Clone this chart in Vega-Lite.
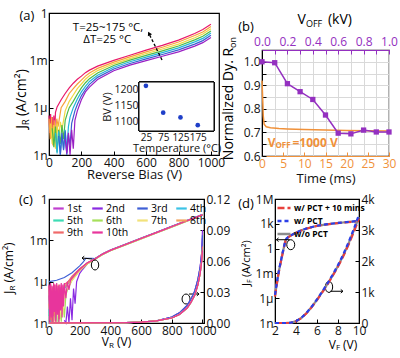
{
"$schema":"https://vega.github.io/schema/vega-lite/v6.json",
"padding":{"left":2,"top":6,"right":0,"bottom":0},
"spacing":6,
"align":"none",
"resolve":{"scale":{"color":"independent","strokeDash":"independent"},"legend":{"color":"independent","strokeDash":"independent"}},
"config":{
 "font":"Open Sans",
 "view":{"stroke":"#000","strokeWidth":1.2},
 "axis":{"labelFont":"Open Sans","labelFontSize":12,"labelColor":"#111","titleFont":"Open Sans","titleFontSize":13,"titleFontWeight":"normal","titleColor":"#111","domainColor":"#000","tickColor":"#000","tickSize":-4,"labelPadding":6,"grid":false,"labelFlush":false,"labelOverlap":false,"tickCount":50,"titlePadding":2},
 "text":{"font":"Open Sans"}
},
"datasets":{
 "a_curves":[
  {"t":175,"v":0,"lj":-6.5},{"t":175,"v":5,"lj":-7.6},{"t":175,"v":10,"lj":-6.4},{"t":175,"v":15,"lj":-7.9},{"t":175,"v":20,"lj":-6.6},{"t":175,"v":25,"lj":-8.2},{"t":175,"v":30,"lj":-6.5},{"t":175,"v":35,"lj":-7.5},{"t":175,"v":40,"lj":-6.3},{"t":175,"v":50,"lj":-5.95},{"t":175,"v":75,"lj":-5.5},{"t":175,"v":100,"lj":-5.1},{"t":175,"v":125,"lj":-4.75},{"t":175,"v":150,"lj":-4.45},{"t":175,"v":175,"lj":-4.2},{"t":175,"v":200,"lj":-4.0},{"t":175,"v":225,"lj":-3.78},{"t":175,"v":250,"lj":-3.62},{"t":175,"v":300,"lj":-3.37},{"t":175,"v":400,"lj":-3.0},{"t":175,"v":500,"lj":-2.68},{"t":175,"v":600,"lj":-2.35},{"t":175,"v":700,"lj":-2.05},{"t":175,"v":800,"lj":-1.72},{"t":175,"v":900,"lj":-1.3},{"t":175,"v":950,"lj":-1.05},{"t":175,"v":1000,"lj":-0.72},
  {"t":150,"v":0,"lj":-6.7},{"t":150,"v":8,"lj":-8.0},{"t":150,"v":16,"lj":-6.6},{"t":150,"v":24,"lj":-8.4},{"t":150,"v":32,"lj":-6.8},{"t":150,"v":40,"lj":-7.9},{"t":150,"v":48,"lj":-6.7},{"t":150,"v":56,"lj":-7.2},{"t":150,"v":75,"lj":-6.0},{"t":150,"v":100,"lj":-5.6},{"t":150,"v":125,"lj":-5.1},{"t":150,"v":150,"lj":-4.8},{"t":150,"v":175,"lj":-4.5},{"t":150,"v":200,"lj":-4.25},{"t":150,"v":225,"lj":-4.0},{"t":150,"v":250,"lj":-3.8},{"t":150,"v":300,"lj":-3.51},{"t":150,"v":400,"lj":-3.11},{"t":150,"v":500,"lj":-2.78},{"t":150,"v":600,"lj":-2.46},{"t":150,"v":700,"lj":-2.17},{"t":150,"v":800,"lj":-1.84},{"t":150,"v":900,"lj":-1.43},{"t":150,"v":950,"lj":-1.2},{"t":150,"v":1000,"lj":-0.86},
  {"t":125,"v":10,"lj":-7.0},{"t":125,"v":20,"lj":-8.3},{"t":125,"v":30,"lj":-7.1},{"t":125,"v":40,"lj":-8.6},{"t":125,"v":50,"lj":-7.0},{"t":125,"v":60,"lj":-8.0},{"t":125,"v":70,"lj":-6.9},{"t":125,"v":80,"lj":-7.4},{"t":125,"v":100,"lj":-6.2},{"t":125,"v":125,"lj":-5.6},{"t":125,"v":150,"lj":-5.2},{"t":125,"v":175,"lj":-4.8},{"t":125,"v":200,"lj":-4.5},{"t":125,"v":225,"lj":-4.2},{"t":125,"v":250,"lj":-3.98},{"t":125,"v":300,"lj":-3.65},{"t":125,"v":400,"lj":-3.22},{"t":125,"v":500,"lj":-2.89},{"t":125,"v":600,"lj":-2.57},{"t":125,"v":700,"lj":-2.28},{"t":125,"v":800,"lj":-1.97},{"t":125,"v":900,"lj":-1.57},{"t":125,"v":950,"lj":-1.33},{"t":125,"v":1000,"lj":-1.0},
  {"t":100,"v":20,"lj":-7.3},{"t":100,"v":30,"lj":-8.5},{"t":100,"v":40,"lj":-7.2},{"t":100,"v":50,"lj":-8.8},{"t":100,"v":60,"lj":-7.4},{"t":100,"v":70,"lj":-8.3},{"t":100,"v":80,"lj":-7.1},{"t":100,"v":90,"lj":-8.0},{"t":100,"v":100,"lj":-6.8},{"t":100,"v":115,"lj":-6.3},{"t":100,"v":125,"lj":-6.0},{"t":100,"v":150,"lj":-5.6},{"t":100,"v":175,"lj":-5.15},{"t":100,"v":200,"lj":-4.75},{"t":100,"v":225,"lj":-4.42},{"t":100,"v":250,"lj":-4.16},{"t":100,"v":300,"lj":-3.8},{"t":100,"v":400,"lj":-3.33},{"t":100,"v":500,"lj":-2.99},{"t":100,"v":600,"lj":-2.69},{"t":100,"v":700,"lj":-2.4},{"t":100,"v":800,"lj":-2.09},{"t":100,"v":900,"lj":-1.7},{"t":100,"v":950,"lj":-1.47},{"t":100,"v":1000,"lj":-1.14},
  {"t":75,"v":40,"lj":-7.6},{"t":75,"v":50,"lj":-8.9},{"t":75,"v":60,"lj":-7.5},{"t":75,"v":70,"lj":-9.0},{"t":75,"v":80,"lj":-7.7},{"t":75,"v":90,"lj":-8.6},{"t":75,"v":100,"lj":-7.4},{"t":75,"v":110,"lj":-8.8},{"t":75,"v":120,"lj":-7.2},{"t":75,"v":130,"lj":-6.6},{"t":75,"v":150,"lj":-6.0},{"t":75,"v":175,"lj":-5.45},{"t":75,"v":200,"lj":-5.0},{"t":75,"v":225,"lj":-4.65},{"t":75,"v":250,"lj":-4.34},{"t":75,"v":300,"lj":-3.94},{"t":75,"v":400,"lj":-3.44},{"t":75,"v":500,"lj":-3.09},{"t":75,"v":600,"lj":-2.8},{"t":75,"v":700,"lj":-2.51},{"t":75,"v":800,"lj":-2.21},{"t":75,"v":900,"lj":-1.83},{"t":75,"v":950,"lj":-1.61},{"t":75,"v":1000,"lj":-1.27},
  {"t":50,"v":60,"lj":-7.8},{"t":50,"v":70,"lj":-9.0},{"t":50,"v":80,"lj":-7.6},{"t":50,"v":90,"lj":-8.7},{"t":50,"v":100,"lj":-7.5},{"t":50,"v":110,"lj":-9.0},{"t":50,"v":120,"lj":-7.7},{"t":50,"v":130,"lj":-8.4},{"t":50,"v":140,"lj":-7.0},{"t":50,"v":150,"lj":-6.6},{"t":50,"v":160,"lj":-6.2},{"t":50,"v":175,"lj":-5.8},{"t":50,"v":200,"lj":-5.25},{"t":50,"v":225,"lj":-4.85},{"t":50,"v":250,"lj":-4.52},{"t":50,"v":300,"lj":-4.08},{"t":50,"v":400,"lj":-3.55},{"t":50,"v":500,"lj":-3.2},{"t":50,"v":600,"lj":-2.91},{"t":50,"v":700,"lj":-2.63},{"t":50,"v":800,"lj":-2.34},{"t":50,"v":900,"lj":-1.97},{"t":50,"v":950,"lj":-1.75},{"t":50,"v":1000,"lj":-1.41},
  {"t":25,"v":100,"lj":-8.0},{"t":25,"v":110,"lj":-8.9},{"t":25,"v":120,"lj":-7.6},{"t":25,"v":130,"lj":-9.0},{"t":25,"v":140,"lj":-7.4},{"t":25,"v":150,"lj":-8.6},{"t":25,"v":160,"lj":-6.8},{"t":25,"v":175,"lj":-6.2},{"t":25,"v":200,"lj":-5.5},{"t":25,"v":225,"lj":-5.0},{"t":25,"v":250,"lj":-4.7},{"t":25,"v":300,"lj":-4.22},{"t":25,"v":400,"lj":-3.66},{"t":25,"v":500,"lj":-3.3},{"t":25,"v":600,"lj":-3.02},{"t":25,"v":700,"lj":-2.74},{"t":25,"v":800,"lj":-2.46},{"t":25,"v":900,"lj":-2.1},{"t":25,"v":950,"lj":-1.88},{"t":25,"v":1000,"lj":-1.55}
 ],
 "a_bv":[{"temp":25,"bv":1210},{"temp":75,"bv":1127},{"temp":125,"bv":1112},{"temp":175,"bv":1088}],
 "b_time":[{"t":0,"r":0.92},{"t":0.15,"r":0.85},{"t":0.3,"r":0.77},{"t":0.5,"r":0.735},{"t":1,"r":0.724},{"t":2,"r":0.72},{"t":4,"r":0.717},{"t":6,"r":0.715},{"t":10,"r":0.712},{"t":15,"r":0.71},{"t":20,"r":0.708},{"t":25,"r":0.707},{"t":30,"r":0.706}],
 "b_volt":[{"kv":0,"r":1.0},{"kv":0.1,"r":0.996},{"kv":0.2,"r":0.907},{"kv":0.3,"r":0.873},{"kv":0.4,"r":0.84},{"kv":0.5,"r":0.774},{"kv":0.6,"r":0.697},{"kv":0.7,"r":0.694},{"kv":0.8,"r":0.71},{"kv":0.9,"r":0.702},{"kv":1.0,"r":0.702}],
 "c_log":[
  {"run":"1st","v":0,"lj":-7.0},{"run":"1st","v":10,"lj":-8.6},{"run":"1st","v":20,"lj":-6.6},{"run":"1st","v":30,"lj":-8.9},{"run":"1st","v":40,"lj":-6.8},{"run":"1st","v":50,"lj":-8.2},{"run":"1st","v":60,"lj":-6.5},{"run":"1st","v":70,"lj":-8.7},{"run":"1st","v":80,"lj":-6.7},{"run":"1st","v":90,"lj":-7.9},{"run":"1st","v":100,"lj":-6.4},{"run":"1st","v":125,"lj":-6.0},{"run":"1st","v":150,"lj":-5.7},{"run":"1st","v":175,"lj":-5.4},{"run":"1st","v":200,"lj":-5.1},{"run":"1st","v":250,"lj":-4.65},{"run":"1st","v":300,"lj":-4.35},{"run":"1st","v":350,"lj":-4.0},{"run":"1st","v":400,"lj":-3.73},{"run":"1st","v":500,"lj":-3.3},{"run":"1st","v":600,"lj":-2.87},{"run":"1st","v":700,"lj":-2.44},{"run":"1st","v":800,"lj":-2.01},{"run":"1st","v":900,"lj":-1.58},{"run":"1st","v":950,"lj":-1.37},{"run":"1st","v":1000,"lj":-1.15},
  {"run":"2nd","v":100,"lj":-8.8},{"run":"2nd","v":110,"lj":-9.0},{"run":"2nd","v":120,"lj":-7.8},{"run":"2nd","v":130,"lj":-9.0},{"run":"2nd","v":140,"lj":-7.2},{"run":"2nd","v":150,"lj":-8.8},{"run":"2nd","v":160,"lj":-6.5},{"run":"2nd","v":170,"lj":-7.6},{"run":"2nd","v":180,"lj":-6.0},{"run":"2nd","v":200,"lj":-5.4},{"run":"2nd","v":220,"lj":-5.1},{"run":"2nd","v":250,"lj":-4.7},{"run":"2nd","v":300,"lj":-4.33},{"run":"2nd","v":350,"lj":-3.98},{"run":"2nd","v":400,"lj":-3.71},{"run":"2nd","v":500,"lj":-3.28},{"run":"2nd","v":600,"lj":-2.85},{"run":"2nd","v":700,"lj":-2.42},{"run":"2nd","v":800,"lj":-1.99},{"run":"2nd","v":900,"lj":-1.56},{"run":"2nd","v":950,"lj":-1.35},{"run":"2nd","v":1000,"lj":-1.13},
  {"run":"3rd","v":0,"lj":-6.0},{"run":"3rd","v":50,"lj":-5.9},{"run":"3rd","v":100,"lj":-5.7},{"run":"3rd","v":150,"lj":-5.35},{"run":"3rd","v":200,"lj":-4.85},{"run":"3rd","v":225,"lj":-4.55},{"run":"3rd","v":240,"lj":-4.3},{"run":"3rd","v":260,"lj":-4.3},{"run":"3rd","v":280,"lj":-4.3},{"run":"3rd","v":300,"lj":-4.32},{"run":"3rd","v":350,"lj":-3.97},{"run":"3rd","v":400,"lj":-3.7},{"run":"3rd","v":500,"lj":-3.27},{"run":"3rd","v":600,"lj":-2.84},{"run":"3rd","v":700,"lj":-2.41},{"run":"3rd","v":800,"lj":-1.98},{"run":"3rd","v":900,"lj":-1.55},{"run":"3rd","v":950,"lj":-1.34},{"run":"3rd","v":1000,"lj":-1.12},
  {"run":"4th","v":0,"lj":-8.0},{"run":"4th","v":10,"lj":-9.0},{"run":"4th","v":20,"lj":-7.4},{"run":"4th","v":30,"lj":-8.8},{"run":"4th","v":40,"lj":-7.0},{"run":"4th","v":50,"lj":-9.0},{"run":"4th","v":60,"lj":-7.3},{"run":"4th","v":70,"lj":-8.5},{"run":"4th","v":80,"lj":-6.9},{"run":"4th","v":100,"lj":-6.5},{"run":"4th","v":125,"lj":-6.1},{"run":"4th","v":150,"lj":-5.7},{"run":"4th","v":200,"lj":-5.1},{"run":"4th","v":250,"lj":-4.65},{"run":"4th","v":300,"lj":-4.36},{"run":"4th","v":350,"lj":-4.01},{"run":"4th","v":400,"lj":-3.74},{"run":"4th","v":500,"lj":-3.31},{"run":"4th","v":600,"lj":-2.88},{"run":"4th","v":700,"lj":-2.45},{"run":"4th","v":800,"lj":-2.02},{"run":"4th","v":900,"lj":-1.59},{"run":"4th","v":950,"lj":-1.38},{"run":"4th","v":1000,"lj":-1.16},
  {"run":"5th","v":0,"lj":-8.5},{"run":"5th","v":10,"lj":-7.5},{"run":"5th","v":20,"lj":-9.0},{"run":"5th","v":30,"lj":-7.2},{"run":"5th","v":40,"lj":-8.6},{"run":"5th","v":50,"lj":-7.1},{"run":"5th","v":60,"lj":-8.9},{"run":"5th","v":70,"lj":-6.9},{"run":"5th","v":90,"lj":-6.6},{"run":"5th","v":125,"lj":-6.1},{"run":"5th","v":150,"lj":-5.75},{"run":"5th","v":200,"lj":-5.15},{"run":"5th","v":250,"lj":-4.7},{"run":"5th","v":300,"lj":-4.37},{"run":"5th","v":350,"lj":-4.02},{"run":"5th","v":400,"lj":-3.75},{"run":"5th","v":500,"lj":-3.32},{"run":"5th","v":600,"lj":-2.89},{"run":"5th","v":700,"lj":-2.46},{"run":"5th","v":800,"lj":-2.03},{"run":"5th","v":900,"lj":-1.6},{"run":"5th","v":950,"lj":-1.39},{"run":"5th","v":1000,"lj":-1.17},
  {"run":"6th","v":60,"lj":-9.0},{"run":"6th","v":70,"lj":-7.6},{"run":"6th","v":80,"lj":-8.9},{"run":"6th","v":90,"lj":-7.3},{"run":"6th","v":100,"lj":-8.6},{"run":"6th","v":110,"lj":-7.0},{"run":"6th","v":120,"lj":-6.6},{"run":"6th","v":150,"lj":-5.9},{"run":"6th","v":200,"lj":-5.2},{"run":"6th","v":250,"lj":-4.7},{"run":"6th","v":300,"lj":-4.38},{"run":"6th","v":350,"lj":-4.03},{"run":"6th","v":400,"lj":-3.76},{"run":"6th","v":500,"lj":-3.33},{"run":"6th","v":600,"lj":-2.9},{"run":"6th","v":700,"lj":-2.47},{"run":"6th","v":800,"lj":-2.04},{"run":"6th","v":900,"lj":-1.61},{"run":"6th","v":950,"lj":-1.4},{"run":"6th","v":1000,"lj":-1.18},
  {"run":"7th","v":50,"lj":-9.0},{"run":"7th","v":60,"lj":-7.8},{"run":"7th","v":70,"lj":-8.8},{"run":"7th","v":80,"lj":-7.4},{"run":"7th","v":90,"lj":-8.4},{"run":"7th","v":100,"lj":-7.0},{"run":"7th","v":110,"lj":-6.7},{"run":"7th","v":150,"lj":-5.9},{"run":"7th","v":200,"lj":-5.2},{"run":"7th","v":250,"lj":-4.7},{"run":"7th","v":300,"lj":-4.37},{"run":"7th","v":350,"lj":-4.02},{"run":"7th","v":400,"lj":-3.75},{"run":"7th","v":500,"lj":-3.32},{"run":"7th","v":600,"lj":-2.89},{"run":"7th","v":700,"lj":-2.46},{"run":"7th","v":800,"lj":-2.03},{"run":"7th","v":900,"lj":-1.6},{"run":"7th","v":950,"lj":-1.39},{"run":"7th","v":1000,"lj":-1.17},
  {"run":"8th","v":0,"lj":-7.6},{"run":"8th","v":10,"lj":-8.8},{"run":"8th","v":20,"lj":-7.0},{"run":"8th","v":30,"lj":-9.0},{"run":"8th","v":40,"lj":-7.3},{"run":"8th","v":50,"lj":-8.4},{"run":"8th","v":60,"lj":-6.9},{"run":"8th","v":80,"lj":-6.7},{"run":"8th","v":100,"lj":-6.4},{"run":"8th","v":150,"lj":-5.8},{"run":"8th","v":200,"lj":-5.15},{"run":"8th","v":250,"lj":-4.68},{"run":"8th","v":300,"lj":-4.35},{"run":"8th","v":350,"lj":-4.0},{"run":"8th","v":400,"lj":-3.73},{"run":"8th","v":500,"lj":-3.3},{"run":"8th","v":600,"lj":-2.87},{"run":"8th","v":700,"lj":-2.44},{"run":"8th","v":800,"lj":-2.01},{"run":"8th","v":900,"lj":-1.58},{"run":"8th","v":950,"lj":-1.37},{"run":"8th","v":1000,"lj":-1.15},
  {"run":"9th","v":0,"lj":-6.3},{"run":"9th","v":6,"lj":-8.8},{"run":"9th","v":12,"lj":-6.2},{"run":"9th","v":18,"lj":-9.0},{"run":"9th","v":24,"lj":-6.4},{"run":"9th","v":30,"lj":-8.5},{"run":"9th","v":36,"lj":-6.2},{"run":"9th","v":42,"lj":-8.9},{"run":"9th","v":48,"lj":-6.3},{"run":"9th","v":54,"lj":-8.3},{"run":"9th","v":60,"lj":-6.2},{"run":"9th","v":66,"lj":-8.7},{"run":"9th","v":72,"lj":-6.4},{"run":"9th","v":78,"lj":-8.0},{"run":"9th","v":84,"lj":-6.3},{"run":"9th","v":90,"lj":-7.6},{"run":"9th","v":100,"lj":-6.2},{"run":"9th","v":125,"lj":-6.0},{"run":"9th","v":150,"lj":-5.6},{"run":"9th","v":200,"lj":-5.05},{"run":"9th","v":250,"lj":-4.62},{"run":"9th","v":300,"lj":-4.34},{"run":"9th","v":350,"lj":-3.99},{"run":"9th","v":400,"lj":-3.72},{"run":"9th","v":500,"lj":-3.29},{"run":"9th","v":600,"lj":-2.86},{"run":"9th","v":700,"lj":-2.43},{"run":"9th","v":800,"lj":-2.0},{"run":"9th","v":900,"lj":-1.57},{"run":"9th","v":950,"lj":-1.36},{"run":"9th","v":1000,"lj":-1.14},
  {"run":"10th","v":0,"lj":-6.2},{"run":"10th","v":5,"lj":-9.0},{"run":"10th","v":10,"lj":-6.1},{"run":"10th","v":15,"lj":-8.6},{"run":"10th","v":20,"lj":-6.3},{"run":"10th","v":25,"lj":-9.0},{"run":"10th","v":30,"lj":-6.1},{"run":"10th","v":35,"lj":-8.2},{"run":"10th","v":40,"lj":-6.2},{"run":"10th","v":45,"lj":-8.9},{"run":"10th","v":50,"lj":-6.1},{"run":"10th","v":55,"lj":-8.4},{"run":"10th","v":60,"lj":-6.3},{"run":"10th","v":65,"lj":-9.0},{"run":"10th","v":70,"lj":-6.2},{"run":"10th","v":75,"lj":-8.1},{"run":"10th","v":80,"lj":-6.1},{"run":"10th","v":85,"lj":-8.6},{"run":"10th","v":90,"lj":-6.2},{"run":"10th","v":95,"lj":-7.8},{"run":"10th","v":100,"lj":-6.1},{"run":"10th","v":110,"lj":-7.2},{"run":"10th","v":120,"lj":-6.0},{"run":"10th","v":130,"lj":-6.6},{"run":"10th","v":140,"lj":-5.9},{"run":"10th","v":150,"lj":-5.75},{"run":"10th","v":175,"lj":-5.4},{"run":"10th","v":200,"lj":-5.1},{"run":"10th","v":250,"lj":-4.62},{"run":"10th","v":300,"lj":-4.35},{"run":"10th","v":350,"lj":-4.0},{"run":"10th","v":400,"lj":-3.73},{"run":"10th","v":500,"lj":-3.3},{"run":"10th","v":600,"lj":-2.87},{"run":"10th","v":700,"lj":-2.44},{"run":"10th","v":800,"lj":-2.01},{"run":"10th","v":900,"lj":-1.58},{"run":"10th","v":950,"lj":-1.37},{"run":"10th","v":1000,"lj":-1.15}
 ],
 "c_lin":[
  {"run":"1st","v":0,"j":0},{"run":"1st","v":500,"j":0.0003},{"run":"1st","v":600,"j":0.0008},{"run":"1st","v":700,"j":0.002},{"run":"1st","v":800,"j":0.0058},{"run":"1st","v":850,"j":0.0098},{"run":"1st","v":900,"j":0.017},{"run":"1st","v":925,"j":0.023},{"run":"1st","v":950,"j":0.031},{"run":"1st","v":970,"j":0.042},{"run":"1st","v":985,"j":0.054},{"run":"1st","v":995,"j":0.068},{"run":"1st","v":1000,"j":0.082},
  {"run":"2nd","v":0,"j":0},{"run":"2nd","v":500,"j":0.0003},{"run":"2nd","v":600,"j":0.0008},{"run":"2nd","v":700,"j":0.002},{"run":"2nd","v":800,"j":0.0058},{"run":"2nd","v":850,"j":0.0098},{"run":"2nd","v":900,"j":0.017},{"run":"2nd","v":925,"j":0.023},{"run":"2nd","v":950,"j":0.031},{"run":"2nd","v":970,"j":0.042},{"run":"2nd","v":985,"j":0.054},{"run":"2nd","v":995,"j":0.068},{"run":"2nd","v":1000,"j":0.09},
  {"run":"3rd","v":0,"j":0},{"run":"3rd","v":500,"j":0.0003},{"run":"3rd","v":600,"j":0.0008},{"run":"3rd","v":700,"j":0.002},{"run":"3rd","v":800,"j":0.0058},{"run":"3rd","v":850,"j":0.0098},{"run":"3rd","v":900,"j":0.017},{"run":"3rd","v":925,"j":0.023},{"run":"3rd","v":950,"j":0.031},{"run":"3rd","v":970,"j":0.042},{"run":"3rd","v":985,"j":0.054},{"run":"3rd","v":995,"j":0.068},{"run":"3rd","v":1000,"j":0.085},
  {"run":"4th","v":0,"j":0},{"run":"4th","v":500,"j":0.0003},{"run":"4th","v":600,"j":0.0008},{"run":"4th","v":700,"j":0.002},{"run":"4th","v":800,"j":0.0048},{"run":"4th","v":850,"j":0.0082},{"run":"4th","v":900,"j":0.0145},{"run":"4th","v":925,"j":0.02},{"run":"4th","v":950,"j":0.027},{"run":"4th","v":970,"j":0.037},{"run":"4th","v":985,"j":0.048},{"run":"4th","v":995,"j":0.06},{"run":"4th","v":1000,"j":0.072},
  {"run":"5th","v":0,"j":0},{"run":"5th","v":500,"j":0.0003},{"run":"5th","v":600,"j":0.0008},{"run":"5th","v":700,"j":0.002},{"run":"5th","v":800,"j":0.0048},{"run":"5th","v":850,"j":0.0082},{"run":"5th","v":900,"j":0.0145},{"run":"5th","v":925,"j":0.02},{"run":"5th","v":950,"j":0.027},{"run":"5th","v":970,"j":0.037},{"run":"5th","v":985,"j":0.048},{"run":"5th","v":995,"j":0.06},{"run":"5th","v":1000,"j":0.07},
  {"run":"6th","v":0,"j":0},{"run":"6th","v":500,"j":0.0003},{"run":"6th","v":600,"j":0.0008},{"run":"6th","v":700,"j":0.002},{"run":"6th","v":800,"j":0.0048},{"run":"6th","v":850,"j":0.0082},{"run":"6th","v":900,"j":0.0145},{"run":"6th","v":925,"j":0.02},{"run":"6th","v":950,"j":0.027},{"run":"6th","v":970,"j":0.037},{"run":"6th","v":985,"j":0.048},{"run":"6th","v":995,"j":0.06},{"run":"6th","v":1000,"j":0.07},
  {"run":"7th","v":0,"j":0},{"run":"7th","v":500,"j":0.0003},{"run":"7th","v":600,"j":0.0008},{"run":"7th","v":700,"j":0.002},{"run":"7th","v":800,"j":0.0048},{"run":"7th","v":850,"j":0.0082},{"run":"7th","v":900,"j":0.0145},{"run":"7th","v":925,"j":0.02},{"run":"7th","v":950,"j":0.027},{"run":"7th","v":970,"j":0.037},{"run":"7th","v":985,"j":0.048},{"run":"7th","v":995,"j":0.06},{"run":"7th","v":1000,"j":0.068},
  {"run":"8th","v":0,"j":0},{"run":"8th","v":500,"j":0.0003},{"run":"8th","v":600,"j":0.0008},{"run":"8th","v":700,"j":0.002},{"run":"8th","v":800,"j":0.0048},{"run":"8th","v":850,"j":0.0082},{"run":"8th","v":900,"j":0.0145},{"run":"8th","v":925,"j":0.02},{"run":"8th","v":950,"j":0.027},{"run":"8th","v":970,"j":0.037},{"run":"8th","v":985,"j":0.048},{"run":"8th","v":995,"j":0.06},{"run":"8th","v":1000,"j":0.07},
  {"run":"9th","v":0,"j":0},{"run":"9th","v":500,"j":0.0003},{"run":"9th","v":600,"j":0.0008},{"run":"9th","v":700,"j":0.002},{"run":"9th","v":800,"j":0.0048},{"run":"9th","v":850,"j":0.0082},{"run":"9th","v":900,"j":0.0145},{"run":"9th","v":925,"j":0.02},{"run":"9th","v":950,"j":0.027},{"run":"9th","v":970,"j":0.037},{"run":"9th","v":985,"j":0.048},{"run":"9th","v":995,"j":0.06},{"run":"9th","v":1000,"j":0.074},
  {"run":"10th","v":0,"j":0},{"run":"10th","v":500,"j":0.0003},{"run":"10th","v":600,"j":0.0008},{"run":"10th","v":700,"j":0.002},{"run":"10th","v":800,"j":0.0048},{"run":"10th","v":850,"j":0.0082},{"run":"10th","v":900,"j":0.0145},{"run":"10th","v":925,"j":0.02},{"run":"10th","v":950,"j":0.027},{"run":"10th","v":970,"j":0.037},{"run":"10th","v":985,"j":0.048},{"run":"10th","v":995,"j":0.06},{"run":"10th","v":1000,"j":0.07}
 ],
 "d_log":[
  {"s":"w/o PCT","v":2.0,"lj":-5.7},{"s":"w/o PCT","v":2.15,"lj":-4.4},{"s":"w/o PCT","v":2.3,"lj":-3.2},{"s":"w/o PCT","v":2.45,"lj":-2.2},{"s":"w/o PCT","v":2.6,"lj":-1.3},{"s":"w/o PCT","v":2.75,"lj":-0.4},{"s":"w/o PCT","v":2.9,"lj":0.45},{"s":"w/o PCT","v":3.0,"lj":0.95},{"s":"w/o PCT","v":3.1,"lj":1.2},{"s":"w/o PCT","v":3.25,"lj":1.38},{"s":"w/o PCT","v":3.5,"lj":1.58},{"s":"w/o PCT","v":4,"lj":1.92},{"s":"w/o PCT","v":4.5,"lj":2.2},{"s":"w/o PCT","v":5,"lj":2.43},{"s":"w/o PCT","v":6,"lj":2.75},{"s":"w/o PCT","v":7,"lj":2.95},{"s":"w/o PCT","v":8,"lj":3.1},{"s":"w/o PCT","v":9,"lj":3.22},{"s":"w/o PCT","v":10,"lj":3.35},
  {"s":"w/ PCT + 10 mins","v":2.0,"lj":-5.8},{"s":"w/ PCT + 10 mins","v":2.15,"lj":-4.5},{"s":"w/ PCT + 10 mins","v":2.3,"lj":-3.3},{"s":"w/ PCT + 10 mins","v":2.45,"lj":-2.25},{"s":"w/ PCT + 10 mins","v":2.6,"lj":-1.35},{"s":"w/ PCT + 10 mins","v":2.75,"lj":-0.45},{"s":"w/ PCT + 10 mins","v":2.9,"lj":0.4},{"s":"w/ PCT + 10 mins","v":3.0,"lj":0.92},{"s":"w/ PCT + 10 mins","v":3.1,"lj":1.18},{"s":"w/ PCT + 10 mins","v":3.25,"lj":1.37},{"s":"w/ PCT + 10 mins","v":3.5,"lj":1.57},{"s":"w/ PCT + 10 mins","v":4,"lj":1.91},{"s":"w/ PCT + 10 mins","v":4.5,"lj":2.19},{"s":"w/ PCT + 10 mins","v":5,"lj":2.42},{"s":"w/ PCT + 10 mins","v":6,"lj":2.74},{"s":"w/ PCT + 10 mins","v":7,"lj":2.94},{"s":"w/ PCT + 10 mins","v":8,"lj":3.09},{"s":"w/ PCT + 10 mins","v":9,"lj":3.2},{"s":"w/ PCT + 10 mins","v":10,"lj":3.32},
  {"s":"w/ PCT","v":2.0,"lj":-5.6},{"s":"w/ PCT","v":2.15,"lj":-4.35},{"s":"w/ PCT","v":2.3,"lj":-3.15},{"s":"w/ PCT","v":2.45,"lj":-2.15},{"s":"w/ PCT","v":2.6,"lj":-1.25},{"s":"w/ PCT","v":2.75,"lj":-0.35},{"s":"w/ PCT","v":2.9,"lj":0.5},{"s":"w/ PCT","v":3.0,"lj":0.97},{"s":"w/ PCT","v":3.1,"lj":1.22},{"s":"w/ PCT","v":3.25,"lj":1.39},{"s":"w/ PCT","v":3.5,"lj":1.59},{"s":"w/ PCT","v":4,"lj":1.93},{"s":"w/ PCT","v":4.5,"lj":2.21},{"s":"w/ PCT","v":5,"lj":2.44},{"s":"w/ PCT","v":6,"lj":2.76},{"s":"w/ PCT","v":7,"lj":2.96},{"s":"w/ PCT","v":8,"lj":3.11},{"s":"w/ PCT","v":9,"lj":3.23},{"s":"w/ PCT","v":10,"lj":3.37}
 ],
 "d_lin":[
  {"s":"w/o PCT","v":2,"j":0},{"s":"w/o PCT","v":3,"j":0},{"s":"w/o PCT","v":3.5,"j":8},{"s":"w/o PCT","v":4,"j":55},{"s":"w/o PCT","v":4.5,"j":160},{"s":"w/o PCT","v":5,"j":320},{"s":"w/o PCT","v":5.5,"j":520},{"s":"w/o PCT","v":6,"j":750},{"s":"w/o PCT","v":6.5,"j":1000},{"s":"w/o PCT","v":7,"j":1260},{"s":"w/o PCT","v":7.5,"j":1540},{"s":"w/o PCT","v":8,"j":1840},{"s":"w/o PCT","v":8.5,"j":2180},{"s":"w/o PCT","v":9,"j":2560},{"s":"w/o PCT","v":9.5,"j":2980},{"s":"w/o PCT","v":10,"j":3420},
  {"s":"w/ PCT + 10 mins","v":2,"j":0},{"s":"w/ PCT + 10 mins","v":3,"j":0},{"s":"w/ PCT + 10 mins","v":3.5,"j":8},{"s":"w/ PCT + 10 mins","v":4,"j":52},{"s":"w/ PCT + 10 mins","v":4.5,"j":155},{"s":"w/ PCT + 10 mins","v":5,"j":315},{"s":"w/ PCT + 10 mins","v":5.5,"j":512},{"s":"w/ PCT + 10 mins","v":6,"j":740},{"s":"w/ PCT + 10 mins","v":6.5,"j":990},{"s":"w/ PCT + 10 mins","v":7,"j":1245},{"s":"w/ PCT + 10 mins","v":7.5,"j":1525},{"s":"w/ PCT + 10 mins","v":8,"j":1820},{"s":"w/ PCT + 10 mins","v":8.5,"j":2150},{"s":"w/ PCT + 10 mins","v":9,"j":2520},{"s":"w/ PCT + 10 mins","v":9.5,"j":2930},{"s":"w/ PCT + 10 mins","v":10,"j":3370},
  {"s":"w/ PCT","v":2,"j":0},{"s":"w/ PCT","v":3,"j":0},{"s":"w/ PCT","v":3.5,"j":9},{"s":"w/ PCT","v":4,"j":58},{"s":"w/ PCT","v":4.5,"j":165},{"s":"w/ PCT","v":5,"j":328},{"s":"w/ PCT","v":5.5,"j":530},{"s":"w/ PCT","v":6,"j":765},{"s":"w/ PCT","v":6.5,"j":1015},{"s":"w/ PCT","v":7,"j":1280},{"s":"w/ PCT","v":7.5,"j":1560},{"s":"w/ PCT","v":8,"j":1870},{"s":"w/ PCT","v":8.5,"j":2210},{"s":"w/ PCT","v":9,"j":2600},{"s":"w/ PCT","v":9.5,"j":3030},{"s":"w/ PCT","v":10,"j":3490}
 ]
},
"vconcat":[
 {"hconcat":[
  {"width":170,"height":142,
   "layer":[
    {"data":{"name":"a_curves"},
     "layer":[
      {"mark":{"type":"line","strokeWidth":1.2},
       "encoding":{
        "x":{"field":"v","type":"quantitative","scale":{"domain":[0,1050],"nice":false,"zero":false},"axis":{"values":[0,200,400,600,800,1000],"format":"d","tickCount":50,"labelOverlap":false,"title":"Reverse Bias (V)","titleFontSize":13,"titlePadding":0}},
        "y":{"field":"lj","type":"quantitative","scale":{"domain":[-9,0],"nice":false,"zero":false},"axis":{"values":[-9,-6,-3,0],"tickCount":50,"labelOverlap":false,"labelExpr":"datum.value == -9 ? '1n' : datum.value == -6 ? '1μ' : datum.value == -3 ? '1m' : '1'","title":null}},
        "color":{"field":"t","type":"nominal","scale":{"domain":[175,150,125,100,75,50,25],"range":["#e8196a","#f7a13b","#efd843","#4cbb47","#22b5d8","#3a5fd0","#9a1fc4"]},"legend":null}}},
      {"data":{"values":[{}]},"mark":{"type":"text","text":"(a)","fontSize":13,"baseline":"middle","align":"center"},"encoding":{"x":{"datum":-136},"y":{"datum":-0.19}}},
      {"data":{"values":[{}]},"mark":{"type":"text","text":"J","fontSize":14,"angle":270,"align":"right","baseline":"middle"},"encoding":{"x":{"datum":-167},"y":{"datum":-7.1}}},
      {"data":{"values":[{}]},"mark":{"type":"text","text":"R","fontSize":9,"angle":270,"align":"left","baseline":"middle","dy":4},"encoding":{"x":{"datum":-167},"y":{"datum":-7.1}}},
      {"data":{"values":[{}]},"mark":{"type":"text","text":"(A/cm²)","fontSize":14,"angle":270,"align":"left","baseline":"middle","dx":9},"encoding":{"x":{"datum":-167},"y":{"datum":-7.1}}},
      {"data":{"values":[{}]},"mark":{"type":"text","text":"T=25~175 °C,","fontSize":11.5,"baseline":"middle","align":"center"},"encoding":{"x":{"datum":365},"y":{"datum":-0.95}}},
      {"data":{"values":[{}]},"mark":{"type":"text","text":"ΔT=25 °C","fontSize":11.5,"baseline":"middle","align":"center"},"encoding":{"x":{"datum":360},"y":{"datum":-1.71}}},
      {"data":{"values":[{}]},"mark":{"type":"rule","strokeDash":[3,2],"strokeWidth":1.3,"color":"#000"},"encoding":{"x":{"datum":698},"y":{"datum":-2.98},"x2":{"datum":622},"y2":{"datum":-1.4}}},
      {"data":{"values":[{}]},"mark":{"type":"point","shape":"triangle-up","filled":true,"size":22,"angle":334,"color":"#000","opacity":1},"encoding":{"x":{"datum":618},"y":{"datum":-1.3}}}
     ]},
    {"data":{"name":"a_bv"},
     "layer":[
      {"mark":{"type":"rect","fill":"white","stroke":"#000","strokeWidth":1},
       "encoding":{"x":{"datum":5,"type":"quantitative","scale":{"domain":[5,222],"range":[90,165],"nice":false,"zero":false}},"x2":{"datum":222},"y":{"datum":1070,"type":"quantitative","scale":{"domain":[1070,1222],"range":[118,69],"nice":false,"zero":false}},"y2":{"datum":1222}}},
      {"mark":{"type":"point","filled":true,"size":22,"color":"#1f3fc8","opacity":1},
       "encoding":{
        "x":{"field":"temp","type":"quantitative","scale":{"domain":[5,222],"range":[90,165],"nice":false,"zero":false},"axis":{"orient":"bottom","offset":-24,"values":[25,75,125,175],"tickCount":50,"labelOverlap":false,"format":"d","title":"Temperature (°C)","titleFontSize":11,"labelFontSize":10,"domain":false,"labelPadding":5,"titlePadding":0}},
        "y":{"field":"bv","type":"quantitative","scale":{"domain":[1070,1222],"range":[118,69],"nice":false,"zero":false},"axis":{"orient":"left","offset":-90,"values":[1100,1150,1200],"tickCount":50,"labelOverlap":false,"format":"d","title":"BV (V)","titleFontSize":11,"labelFontSize":10.5,"domain":false,"labelPadding":5,"titlePadding":1}}}}
     ]}
   ],
   "resolve":{"scale":{"x":"independent","y":"independent"},"axis":{"x":"independent","y":"independent"}}
  },
  {"vconcat":[
   {"width":20,"height":1,"view":{"stroke":null},"data":{"values":[{}]},"mark":{"type":"text","text":"","fontSize":1,"baseline":"top","align":"left"},"encoding":{}},
   {"width":127,"height":106,
    "layer":[
     {"data":{"name":"b_time"},
      "layer":[
       {"mark":{"type":"line","color":"#f0913a","strokeWidth":1.5},
        "encoding":{
         "x":{"field":"t","type":"quantitative","scale":{"domain":[0,30],"nice":false,"zero":false},"axis":{"values":[0,5,10,15,20,25,30],"format":"d","tickCount":50,"labelOverlap":false,"title":"Time (ms)","labelColor":"#f0913a","domainColor":"#f0913a","tickColor":"#f0913a","titleFontSize":13,"titlePadding":3}},
         "y":{"field":"r","type":"quantitative","scale":{"domain":[0.6,1.05],"nice":false,"zero":false},"axis":{"values":[0.6,0.65,0.7,0.75,0.8,0.85,0.9,0.95,1.0],"tickCount":50,"labelOverlap":false,"labelExpr":"round(datum.value*100) % 10 == 0 ? format(datum.value, '.1f') : ''","grid":true,"gridColor":"#d9d9d9","title":null}}}},
       {"data":{"values":[{}]},"mark":{"type":"text","text":"(b)","fontSize":13,"baseline":"middle","align":"center"},"encoding":{"x":{"datum":-3.78},"y":{"datum":1.148}}},
       {"data":{"values":[{}]},"mark":{"type":"text","text":"Normalized Dy. R","fontSize":14,"angle":270,"align":"right","baseline":"middle"},"encoding":{"x":{"datum":-7.8},"y":{"datum":1.059}}},
       {"data":{"values":[{}]},"mark":{"type":"text","text":"on","fontSize":9,"angle":270,"align":"left","baseline":"middle","dy":4},"encoding":{"x":{"datum":-7.8},"y":{"datum":1.059}}},
       {"data":{"values":[{}]},"mark":{"type":"text","text":"V","fontSize":12,"fontWeight":"bold","color":"#f0913a","align":"right","baseline":"middle"},"encoding":{"x":{"datum":3.19},"y":{"datum":0.655}}},
       {"data":{"values":[{}]},"mark":{"type":"text","text":"OFF","fontSize":8,"fontWeight":"bold","color":"#f0913a","align":"left","baseline":"middle","dy":3},"encoding":{"x":{"datum":3.19},"y":{"datum":0.655}}},
       {"data":{"values":[{}]},"mark":{"type":"text","text":"=1000 V","fontSize":12,"fontWeight":"bold","color":"#f0913a","align":"left","baseline":"middle","dx":17},"encoding":{"x":{"datum":3.19},"y":{"datum":0.655}}}
      ]},
     {"data":{"name":"b_volt"},
      "layer":[
       {"mark":{"type":"line","color":"#9430c0","strokeWidth":1.5,"point":{"shape":"square","size":28,"filled":true,"color":"#9430c0"}},
        "encoding":{
         "x":{"field":"kv","type":"quantitative","scale":{"domain":[0,1],"nice":false,"zero":false},"axis":{"orient":"top","values":[0,0.1,0.2,0.3,0.4,0.5,0.6,0.7,0.8,0.9,1.0],"tickCount":50,"labelOverlap":false,"labelExpr":"round(datum.value*10) % 2 == 0 ? format(datum.value, '.1f') : ''","labelColor":"#9430c0","domainColor":"#9430c0","tickColor":"#9430c0","grid":true,"gridColor":"#d9d9d9","title":null}},
         "y":{"field":"r","type":"quantitative","scale":{"domain":[0.6,1.05],"nice":false,"zero":false}}}},
       {"data":{"values":[{}]},"mark":{"type":"text","text":"V","fontSize":14,"align":"right","baseline":"middle"},"encoding":{"x":{"datum":0.346},"y":{"datum":1.177}}},
       {"data":{"values":[{}]},"mark":{"type":"text","text":"OFF","fontSize":9,"align":"left","baseline":"middle","dy":4},"encoding":{"x":{"datum":0.346},"y":{"datum":1.177}}},
       {"data":{"values":[{}]},"mark":{"type":"text","text":"(kV)","fontSize":14,"align":"left","baseline":"middle","dx":22},"encoding":{"x":{"datum":0.346},"y":{"datum":1.177}}}
      ]}
    ],
    "resolve":{"scale":{"x":"independent"},"axis":{"x":"independent"}}
   }
  ],"spacing":-3,"align":"none"}
 ],"spacing":-5,"align":"none","resolve":{"scale":{"color":"independent","strokeDash":"independent"},"legend":{"color":"independent","strokeDash":"independent"}}},
 {"hconcat":[
  {"width":155,"height":124,
   "layer":[
    {"data":{"name":"c_log"},
     "layer":[
      {"mark":{"type":"line","strokeWidth":1.2},
       "encoding":{
        "x":{"field":"v","type":"quantitative","scale":{"domain":[0,1010],"nice":false,"zero":false},"axis":{"values":[0,200,400,600,800,1000],"format":"d","tickCount":50,"labelOverlap":false,"title":null}},
        "y":{"field":"lj","type":"quantitative","scale":{"domain":[-9,0],"nice":false,"zero":false},"axis":{"values":[-9,-6,-3,0],"tickCount":50,"labelOverlap":false,"labelExpr":"datum.value == -9 ? '1n' : datum.value == -6 ? '1μ' : datum.value == -3 ? '1m' : '1'","title":null}},
        "color":{"field":"run","type":"nominal","scale":{"domain":["1st","2nd","3rd","4th","5th","6th","7th","8th","9th","10th"],"range":["#c040d0","#8a2be2","#3f5fd6","#3cc3e6","#3ddcb4","#a6e05a","#f2e27a","#f2a35e","#f06a6a","#e8359c"]},
         "legend":{"orient":"top-left","direction":"horizontal","offset":3,"columns":4,"symbolType":"stroke","symbolSize":110,"symbolStrokeWidth":2.2,"labelFontSize":10.5,"labelOffset":2,"columnPadding":3,"rowPadding":0,"padding":0,"title":null,"labelFont":"Open Sans"}}}},
      {"data":{"values":[{}]},"mark":{"type":"text","text":"(c)","fontSize":13,"baseline":"middle","align":"center"},"encoding":{"x":{"datum":-150},"y":{"datum":-0.07}}},
      {"data":{"values":[{}]},"mark":{"type":"text","text":"J","fontSize":12,"angle":270,"align":"right","baseline":"middle"},"encoding":{"x":{"datum":-258},"y":{"datum":-6.64}}},
      {"data":{"values":[{}]},"mark":{"type":"text","text":"R","fontSize":8,"angle":270,"align":"left","baseline":"middle","dy":3.5},"encoding":{"x":{"datum":-258},"y":{"datum":-6.64}}},
      {"data":{"values":[{}]},"mark":{"type":"text","text":"(A/cm²)","fontSize":12,"angle":270,"align":"left","baseline":"middle","dx":8},"encoding":{"x":{"datum":-258},"y":{"datum":-6.64}}},
      {"data":{"values":[{}]},"mark":{"type":"text","text":"V","fontSize":12,"align":"right","baseline":"middle"},"encoding":{"x":{"datum":391},"y":{"datum":-10.38}}},
      {"data":{"values":[{}]},"mark":{"type":"text","text":"R","fontSize":8,"align":"left","baseline":"middle","dy":3.5},"encoding":{"x":{"datum":391},"y":{"datum":-10.38}}},
      {"data":{"values":[{}]},"mark":{"type":"text","text":"(V)","fontSize":12,"align":"left","baseline":"middle","dx":8},"encoding":{"x":{"datum":391},"y":{"datum":-10.38}}},
      {"data":{"values":[{}]},"mark":{"type":"point","shape":"M0,-0.5A0.37,0.5,0,1,1,0,0.5A0.37,0.5,0,1,1,0,-0.5M-0.3,-0.6L-1.3,-0.7M-1.08,-0.88L-1.3,-0.7L-1.08,-0.5","size":400,"filled":false,"stroke":"#000","strokeWidth":1,"opacity":1},"encoding":{"x":{"datum":300},"y":{"datum":-4.79}}},
      {"data":{"values":[{}]},"mark":{"type":"point","shape":"M0,-0.5A0.4,0.5,0,1,1,0,0.5A0.4,0.5,0,1,1,0,-0.5M0.3,-0.5L1.3,-0.5M1.08,-0.68L1.3,-0.5L1.08,-0.32","size":400,"filled":false,"stroke":"#000","strokeWidth":1,"opacity":1},"encoding":{"x":{"datum":893},"y":{"datum":-7.26}}}
     ]},
    {"data":{"name":"c_lin"},
     "layer":[
      {"mark":{"type":"line","strokeWidth":1.2},
       "encoding":{
        "x":{"field":"v","type":"quantitative","scale":{"domain":[0,1010],"nice":false,"zero":false}},
        "y":{"field":"j","type":"quantitative","scale":{"domain":[0,0.12],"nice":false,"zero":false},"axis":{"orient":"right","values":[0,0.03,0.06,0.09,0.12],"tickCount":50,"labelOverlap":false,"format":".2f","title":null}},
        "color":{"field":"run","type":"nominal","scale":{"domain":["1st","2nd","3rd","4th","5th","6th","7th","8th","9th","10th"],"range":["#c040d0","#8a2be2","#3f5fd6","#3cc3e6","#3ddcb4","#a6e05a","#f2e27a","#f2a35e","#f06a6a","#e8359c"]},
         "legend":{"orient":"top-left","direction":"horizontal","offset":3,"columns":4,"symbolType":"stroke","symbolSize":110,"symbolStrokeWidth":2.2,"labelFontSize":10.5,"labelOffset":2,"columnPadding":3,"rowPadding":0,"padding":0,"title":null,"labelFont":"Open Sans"}}}}
     ]}
   ],
   "resolve":{"scale":{"y":"independent"},"axis":{"y":"independent"}}
  },
  {"width":84,"height":124,
   "layer":[
    {"data":{"name":"d_log"},
     "layer":[
      {"mark":{"type":"line","strokeWidth":2.2},
       "encoding":{
        "x":{"field":"v","type":"quantitative","scale":{"domain":[2,10],"nice":false,"zero":false},"axis":{"values":[2,4,6,8,10],"format":"d","tickCount":50,"labelOverlap":false,"title":null}},
        "y":{"field":"lj","type":"quantitative","scale":{"domain":[-9,6],"nice":false,"zero":false},"axis":{"values":[-9,-6,-3,0,3,6],"tickCount":50,"labelOverlap":false,"labelExpr":"datum.value == 6 ? '1M' : datum.value == 3 ? '1k' : datum.value == 0 ? '1' : datum.value == -3 ? '1m' : datum.value == -6 ? '1μ' : '1n'","title":null}},
        "color":{"field":"s","type":"nominal","scale":{"domain":["w/ PCT + 10 mins","w/ PCT","w/o PCT"],"range":["#e8403c","#2b3fe8","#8c8c8c"]},"legend":{"orient":"top-left","offset":1,"symbolType":"stroke","symbolSize":170,"symbolStrokeWidth":2.5,"labelFontSize":8.5,"labelFontWeight":"bold","rowPadding":0,"padding":0,"title":null,"labelOffset":2}},
        "strokeDash":{"field":"s","type":"nominal","scale":{"domain":["w/ PCT + 10 mins","w/ PCT","w/o PCT"],"range":[[7,3],[4,3],[1,0]]},"legend":{"orient":"top-left","offset":1,"symbolType":"stroke","symbolSize":170,"symbolStrokeWidth":2.5,"labelFontSize":8.5,"labelFontWeight":"bold","rowPadding":0,"padding":0,"title":null,"labelOffset":2}}}},
      {"data":{"values":[{}]},"mark":{"type":"text","text":"(d)","fontSize":13,"baseline":"middle","align":"center"},"encoding":{"x":{"datum":-0.76},"y":{"datum":5.4}}},
      {"data":{"values":[{}]},"mark":{"type":"text","text":"J","fontSize":11,"angle":270,"align":"right","baseline":"middle"},"encoding":{"x":{"datum":-0.67},"y":{"datum":-4.16}}},
      {"data":{"values":[{}]},"mark":{"type":"text","text":"F","fontSize":7,"angle":270,"align":"left","baseline":"middle","dy":3},"encoding":{"x":{"datum":-0.67},"y":{"datum":-4.16}}},
      {"data":{"values":[{}]},"mark":{"type":"text","text":"(A/cm²)","fontSize":11,"angle":270,"align":"left","baseline":"middle","dx":6},"encoding":{"x":{"datum":-0.67},"y":{"datum":-4.16}}},
      {"data":{"values":[{}]},"mark":{"type":"text","text":"V","fontSize":12,"align":"right","baseline":"middle"},"encoding":{"x":{"datum":7.81},"y":{"datum":-11.65}}},
      {"data":{"values":[{}]},"mark":{"type":"text","text":"F","fontSize":8,"align":"left","baseline":"middle","dy":3.5},"encoding":{"x":{"datum":7.81},"y":{"datum":-11.65}}},
      {"data":{"values":[{}]},"mark":{"type":"text","text":"(V)","fontSize":12,"align":"left","baseline":"middle","dx":7},"encoding":{"x":{"datum":7.81},"y":{"datum":-11.65}}},
      {"data":{"values":[{}]},"mark":{"type":"point","shape":"M0,-0.5A0.4,0.5,0,1,1,0,0.5A0.4,0.5,0,1,1,0,-0.5M-0.1,-0.5L-1.44,-0.5M-1.22,-0.68L-1.44,-0.5L-1.22,-0.32","size":400,"filled":false,"stroke":"#000","strokeWidth":1,"opacity":1},"encoding":{"x":{"datum":3.5},"y":{"datum":0.47}}},
      {"data":{"values":[{}]},"mark":{"type":"point","shape":"M0,-0.55A0.37,0.55,0,1,1,0,0.55A0.37,0.55,0,1,1,0,-0.55M0.13,0.43L1.4,0.43M1.18,0.25L1.4,0.43L1.18,0.61","size":400,"filled":false,"stroke":"#000","strokeWidth":1,"opacity":1},"encoding":{"x":{"datum":7.14},"y":{"datum":-4.64}}}
     ]},
    {"data":{"name":"d_lin"},
     "layer":[
      {"mark":{"type":"line","strokeWidth":2.2},
       "encoding":{
        "x":{"field":"v","type":"quantitative","scale":{"domain":[2,10],"nice":false,"zero":false}},
        "y":{"field":"j","type":"quantitative","scale":{"domain":[0,4000],"nice":false,"zero":false},"axis":{"orient":"right","values":[0,1000,2000,3000,4000],"tickCount":50,"labelOverlap":false,"labelExpr":"datum.value == 0 ? '0' : (datum.value/1000) + 'k'","title":null}},
        "color":{"field":"s","type":"nominal","scale":{"domain":["w/ PCT + 10 mins","w/ PCT","w/o PCT"],"range":["#e8403c","#2b3fe8","#8c8c8c"]},"legend":{"orient":"top-left","offset":1,"symbolType":"stroke","symbolSize":170,"symbolStrokeWidth":2.5,"labelFontSize":8.5,"labelFontWeight":"bold","rowPadding":0,"padding":0,"title":null,"labelOffset":2}},
        "strokeDash":{"field":"s","type":"nominal","scale":{"domain":["w/ PCT + 10 mins","w/ PCT","w/o PCT"],"range":[[7,3],[4,3],[1,0]]},"legend":{"orient":"top-left","offset":1,"symbolType":"stroke","symbolSize":170,"symbolStrokeWidth":2.5,"labelFontSize":8.5,"labelFontWeight":"bold","rowPadding":0,"padding":0,"title":null,"labelOffset":2}}}}
     ]}
   ],
   "resolve":{"scale":{"y":"independent"},"axis":{"y":"independent"}}
  }
 ],"spacing":6,"align":"none","resolve":{"scale":{"color":"independent","strokeDash":"independent"},"legend":{"color":"independent","strokeDash":"independent"}}}
]
}
